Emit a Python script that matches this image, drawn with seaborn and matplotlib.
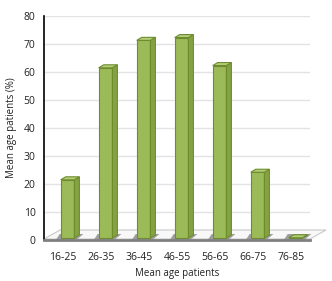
import matplotlib
matplotlib.use("Agg")
import matplotlib.pyplot as plt
import seaborn as sns
import numpy as np
from matplotlib.patches import Polygon
from matplotlib.transforms import IdentityTransform

categories = ["16-25", "26-35", "36-45", "46-55", "56-65", "66-75", "76-85"]
values = [21.5, 61.5, 71.3, 72.3, 62.3, 24.2, 0.8]
y_ticks = [0, 10, 20, 30, 40, 50, 60, 70, 80]

sns.set_theme(style="white")
plt.rcParams['font.family'] = ['Open Sans', 'DejaVu Sans']

W, H = 332, 281
fig = plt.figure(figsize=(W / 100, H / 100), dpi=100)
ax = fig.add_axes([44 / W, 41 / H, 266 / W, 224 / H])

front = "#9BBB59"
edge = "#6E8C2F"
side = "#84A340"
top = "#B4CE78"

sns.barplot(x=categories, y=values, color=front, width=0.36, saturation=1,
            edgecolor=edge, linewidth=0.8, ax=ax, zorder=4)
bars = list(ax.patches)
for p in bars:
    p.set_x(p.get_x() + 0.12)

ax.set_xlim(-0.5, 6.5)
ax.set_ylim(0, 80)
ax.set_yticks(y_ticks)
ax.set_yticklabels([str(v) for v in y_ticks], fontsize=7.5, color="#222222")
ax.yaxis.grid(True, color="#E3E3E3", linewidth=1, zorder=0)
ax.set_axisbelow(True)

ax.set_xticks(np.arange(-0.5, 7, 1))
ax.set_xticklabels([])
ax.set_xticks(np.arange(len(categories)), minor=True)
ax.set_xticklabels(categories, minor=True, fontsize=7.5, color="#222222")
ax.tick_params(axis="x", which="major", length=4, width=1, color="#404040", direction="out")
ax.tick_params(axis="x", which="minor", length=0, pad=9)
ax.tick_params(axis="y", length=4, width=1, color="black", direction="out", pad=2)

for s in ["top", "right"]:
    ax.spines[s].set_visible(False)
ax.spines["left"].set_color("black")
ax.spines["left"].set_linewidth(1.2)
ax.spines["bottom"].set_color("#808080")
ax.spines["bottom"].set_linewidth(2)
ax.spines["bottom"].set_zorder(6)

ax.set_xlabel("Mean age patients", fontsize=7, color="#222222", labelpad=3)
ax.set_ylabel("Mean age patients (%)", fontsize=7, color="#222222", labelpad=5)

ident = IdentityTransform()

def px(x, y):
    return (x, H - y)

floor = Polygon([px(44, 239), px(310, 239), px(326, 230), px(60, 230)],
                closed=True, facecolor="#F8F8F8", edgecolor="#C8C8C8",
                linewidth=0.8, transform=ident, zorder=1, clip_on=False)
ax.add_patch(floor)

dx, dy = 5, 3
for p in bars:
    x0, y0 = p.get_x(), p.get_y()
    x1, y1 = x0 + p.get_width(), y0 + p.get_height()
    (X0, Y0) = ax.transData.transform((x0, y0))
    (X1, Y1) = ax.transData.transform((x1, y1))
    Y0 += 2
    p.set_y(ax.transData.inverted().transform((X0, Y0))[1])
    p.set_height(y1 - p.get_y())
    sh = Polygon([(X0 - 5, Y0 - 2), (X1 + 2, Y0 - 2), (X1 + dx + 4, Y0 + 4), (X0 - 1, Y0 + 4)],
                 closed=True, facecolor="#9E9E9E", edgecolor="none",
                 transform=ident, zorder=3, clip_on=False)
    ax.add_patch(sh)
    sidep = Polygon([(X1, Y0), (X1 + dx, Y0 + dy), (X1 + dx, Y1 + dy), (X1, Y1)],
                    closed=True, facecolor=side, edgecolor=edge, linewidth=0.8,
                    transform=ident, zorder=5, clip_on=False)
    ax.add_patch(sidep)
    topp = Polygon([(X0, Y1), (X0 + dx, Y1 + dy), (X1 + dx, Y1 + dy), (X1, Y1)],
                   closed=True, facecolor=top, edgecolor=edge, linewidth=0.8,
                   transform=ident, zorder=5, clip_on=False)
    ax.add_patch(topp)

ax.set_xlim(-0.5, 6.5)
ax.set_ylim(0, 80)
fig.savefig("out.png", dpi=100)
